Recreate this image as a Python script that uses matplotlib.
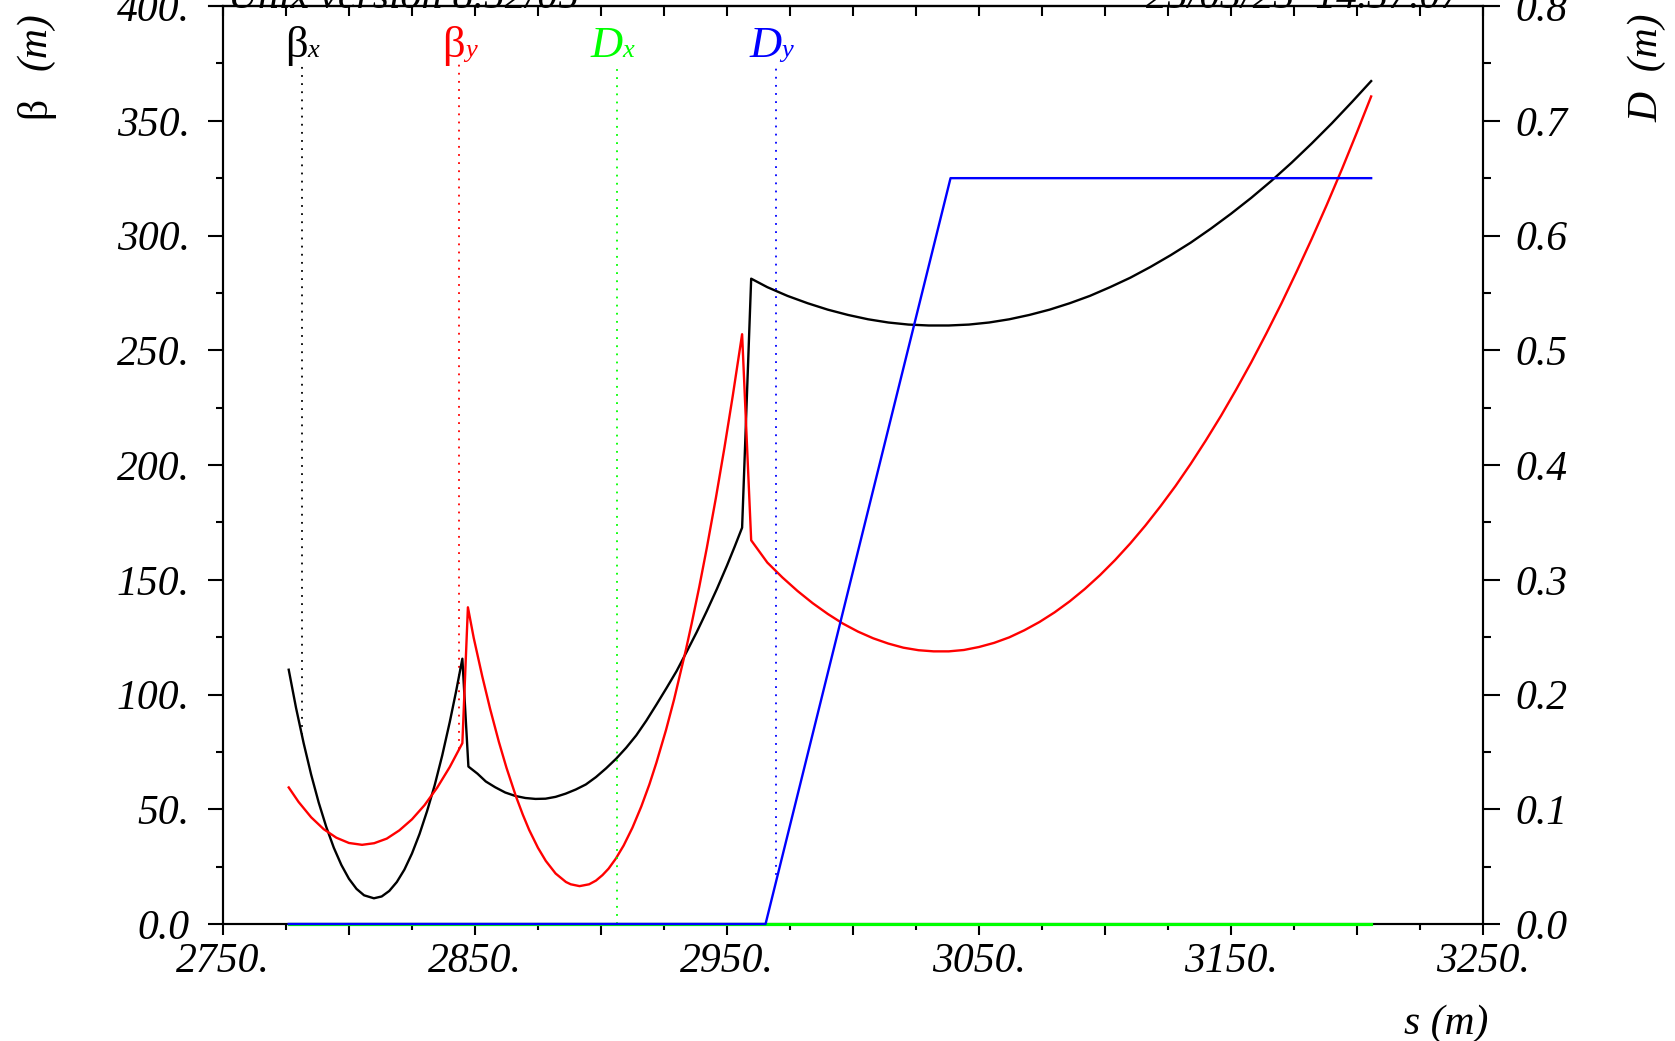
import numpy as np
import matplotlib
matplotlib.use("Agg")
import matplotlib.pyplot as plt
from matplotlib.ticker import FixedLocator, MultipleLocator, NullFormatter
from matplotlib.lines import Line2D

plt.rcParams['font.family'] = ['Liberation Serif', 'DejaVu Serif']

# beta_x (m) along s (m)
s_bx = np.array([2776.1, 2779, 2782, 2785, 2788, 2791, 2794, 2797, 2800, 2803, 2806, 2809.9,
                 2813, 2816, 2819, 2822, 2825, 2828, 2831, 2834, 2837, 2840, 2842.5, 2845,
                 2847.4, 2851, 2854.3, 2858, 2862, 2866, 2870, 2874, 2878, 2882, 2886, 2890,
                 2894, 2898, 2902, 2906, 2910, 2914, 2918, 2922, 2926, 2930, 2934, 2938,
                 2942, 2946, 2950, 2953, 2956,
                 2959.6, 2966, 2974, 2982, 2990, 2998, 3006, 3014, 3022, 3030, 3038, 3046,
                 3054, 3062, 3070, 3078, 3086, 3094, 3102, 3110, 3118, 3126, 3134, 3142,
                 3150, 3158, 3166, 3174, 3182, 3190, 3198, 3205.6])
bx = np.array([110.8, 94.2, 78.9, 65.1, 52.9, 42.3, 33.2, 25.7, 19.7, 15.3, 12.5, 11.2,
               12.0, 14.4, 18.3, 23.7, 30.7, 39.2, 49.2, 60.4, 73.4, 88.0, 101.3, 115.6,
               68.6, 65.5, 62.1, 59.6, 57.3, 55.8, 54.9, 54.5, 54.6, 55.4, 56.8, 58.6,
               60.8, 64.0, 67.8, 72.0, 76.8, 82.2, 88.6, 95.6, 102.8, 110.2, 118.6, 127.2,
               136.4, 146.0, 156.2, 164.3, 172.7,
               281.2, 277.5, 273.7, 270.5, 267.7, 265.4, 263.5, 262.1, 261.2, 260.8, 260.8, 261.2,
               262.1, 263.5, 265.4, 267.7, 270.5, 273.7, 277.5, 281.6, 286.3, 291.4, 296.9, 303.0,
               309.5, 316.4, 323.8, 331.7, 340.1, 348.9, 358.2, 367.3])

# beta_y (m)
s_by = np.array([2776.1, 2780, 2785, 2790, 2795, 2800, 2805.2, 2810, 2815, 2820, 2825, 2830,
                 2835, 2840, 2845,
                 2847.2, 2849.5, 2852.9, 2856, 2859.5, 2862.5, 2866.2, 2869, 2871.5, 2875,
                 2878.1, 2882, 2886.1, 2888, 2891.5, 2895.3, 2898, 2900.6, 2903, 2905.9, 2909,
                 2912.5, 2916, 2919.2, 2922, 2925.8, 2929, 2933.7, 2936, 2939, 2942, 2945.6,
                 2949, 2952.3, 2956,
                 2959.6, 2966, 2972, 2978, 2984, 2990, 2996, 3002, 3008, 3014, 3020, 3026,
                 3032, 3038, 3044, 3050, 3056, 3062, 3068, 3074, 3080, 3086, 3092, 3098,
                 3104, 3110, 3116, 3122, 3128, 3134, 3140, 3146, 3152, 3158, 3164, 3170,
                 3176, 3182, 3188, 3194, 3200, 3205.6])
by = np.array([59.5, 53.2, 46.5, 41.3, 37.6, 35.3, 34.5, 35.2, 37.2, 40.8, 45.6, 51.8,
               59.4, 68.4, 78.8,
               138.0, 124.7, 107.9, 93.8, 79.3, 68.1, 55.8, 47.6, 41.0, 33.2,
               27.5, 22.0, 18.3, 17.3, 16.5, 17.3, 18.9, 21.3, 24.1, 28.5, 34.2,
               42.0, 51.2, 60.8, 70.3, 84.5, 97.8, 119.5, 131.0, 146.9, 163.9, 185.7,
               207.6, 230.2, 257.0,
               167.2, 157.5, 151.0, 145.1, 139.8, 135.1, 130.9, 127.4, 124.5, 122.2, 120.4, 119.3,
               118.8, 118.8, 119.4, 120.7, 122.5, 124.9, 128.0, 131.6, 135.8, 140.6, 146.0, 152.0,
               158.6, 165.8, 173.6, 182.0, 190.9, 200.5, 210.7, 221.4, 232.8, 244.7, 257.3, 270.4,
               284.2, 298.5, 313.4, 328.9, 345.1, 360.6])

# dispersion D_x, D_y (m)
s_dx = np.array([2776.1, 3205.6])
dx = np.array([0.0, 0.0])
s_dy = np.array([2776.1, 2965.3, 3038.7, 3205.6])
dy = np.array([0.0, 0.0, 0.65, 0.65])

x_ticks = [2750, 2800, 2850, 2900, 2950, 3000, 3050, 3100, 3150, 3200, 3250]
x_labels = ["2750.", "", "2850.", "", "2950.", "", "3050.", "", "3150.", "", "3250."]
b_ticks = [0, 50, 100, 150, 200, 250, 300, 350, 400]
b_labels = ["0.0", "50.", "100.", "150.", "200.", "250.", "300.", "350.", "400."]
d_ticks = [0.0, 0.1, 0.2, 0.3, 0.4, 0.5, 0.6, 0.7, 0.8]
d_labels = ["0.0", "0.1", "0.2", "0.3", "0.4", "0.5", "0.6", "0.7", "0.8"]

# keys along the top: s position, symbol, subscript, colour
key_s = [2781.3, 2843.8, 2906.4, 2969.3]
key_sym = ["β", "β", "D", "D"]
key_sub = ["x", "y", "x", "y"]
key_col = ["black", "#ff0000", "#00ff00", "#0000ff"]

fs = 30
lw = 1.7

fig = plt.figure(figsize=(16.75, 10.41), dpi=100)
ax = fig.add_axes([0.1331, 0.1124, 0.7523, 0.8818])
ax2 = ax.twinx()

ax.set_xlim(2750, 3250)
ax.set_ylim(0, 400)
ax2.set_ylim(0, 0.8)

for a in (ax, ax2):
    for sp in a.spines.values():
        sp.set_linewidth(1.5)

ax.xaxis.set_major_locator(FixedLocator(x_ticks))
ax.set_xticklabels(x_labels, fontsize=fs, fontstyle='italic')
ax.xaxis.set_minor_locator(MultipleLocator(25))
ax.tick_params(axis='x', which='major', direction='out', length=8, width=1.5, pad=5)
ax.tick_params(axis='x', which='minor', direction='out', length=4.5, width=1.5)

ax.set_yticks(b_ticks)
ax.set_yticklabels(b_labels, fontsize=fs, fontstyle='italic')
ax.yaxis.set_minor_locator(MultipleLocator(25))
ax.tick_params(axis='y', which='major', direction='out', length=11, width=1.5, pad=13)
ax.tick_params(axis='y', which='minor', direction='out', length=5, width=1.5)

ax2.set_yticks(d_ticks)
ax2.set_yticklabels(d_labels, fontsize=fs, fontstyle='italic')
ax2.yaxis.set_minor_locator(MultipleLocator(0.05))
ax2.tick_params(axis='y', which='major', direction='out', length=12, width=1.5, pad=11)
ax2.tick_params(axis='y', which='minor', direction='out', length=6, width=1.5)

# top axis: inward ticks, no labels
top = ax.secondary_xaxis('top')
top.xaxis.set_major_locator(MultipleLocator(25))
top.xaxis.set_major_formatter(NullFormatter())
top.tick_params(direction='in', length=7, width=1.5)
top.spines['top'].set_linewidth(1.5)

ax.plot(s_bx, bx, color='black', lw=lw, clip_on=False, zorder=3)
ax.plot(s_by, by, color='#ff0000', lw=lw, clip_on=False, zorder=3)
ax2.plot(s_dx, dx, color='#00ff00', lw=lw + 0.6, clip_on=False, zorder=3)
ax2.plot(s_dy, dy, color='#0000ff', lw=lw, clip_on=False, zorder=4)

# dotted drop lines and keys
curves = [(ax, s_bx, bx, 400), (ax, s_by, by, 400), (ax2, s_dx, dx, 0.8), (ax2, s_dy, dy, 0.8)]
for k, (a, sx, vy, ymax) in enumerate(curves):
    s0 = key_s[k]
    a.plot([s0, s0], [np.interp(s0, sx, vy), 0.937 * ymax], color=key_col[k], lw=1.3,
           dashes=(1, 3.5), zorder=2)
    main_style = 'normal' if key_sym[k] == "β" else 'italic'
    ax.annotate(key_sym[k], xy=(s0, 0.944), xycoords=('data', 'axes fraction'),
                xytext=(4, 0), textcoords='offset points', ha='right', va='baseline',
                fontsize=32, fontstyle=main_style, color=key_col[k])
    ax.annotate(key_sub[k], xy=(s0, 0.944), xycoords=('data', 'axes fraction'),
                xytext=(4, 0), textcoords='offset points', ha='left', va='baseline',
                fontsize=19, fontstyle='italic', color=key_col[k])

# axis titles
fig.text(0.0269, 0.8866, "β", rotation=90, rotation_mode='anchor', ha='left', va='baseline',
         fontsize=fs)
fig.text(0.0269, 0.9328, "(m)", rotation=90, rotation_mode='anchor', ha='left', va='baseline',
         fontsize=fs, fontstyle='italic')
fig.text(0.9898, 0.8828, "D  (m)", rotation=90, rotation_mode='anchor', ha='left',
         va='baseline', fontsize=fs, fontstyle='italic')
fig.text(0.8884, 0.0067, "s (m)", ha='right', va='baseline', fontsize=fs, fontstyle='italic')

# header (mostly cut off at the top edge) and its rule
fig.text(0.1361, 0.9923, "Unix version 8.52/05", ha='left', va='baseline', fontsize=fs,
         fontstyle='italic')
fig.text(0.8722, 0.9923, "25/03/23  14.37.07", ha='right', va='baseline', fontsize=fs,
         fontstyle='italic')
fig.add_artist(Line2D([209 / 1675, 1498 / 1675], [1 - 6 / 1041, 1 - 6 / 1041],
                      transform=fig.transFigure, color='black', lw=1.5))

fig.savefig("out.png", dpi=100)
